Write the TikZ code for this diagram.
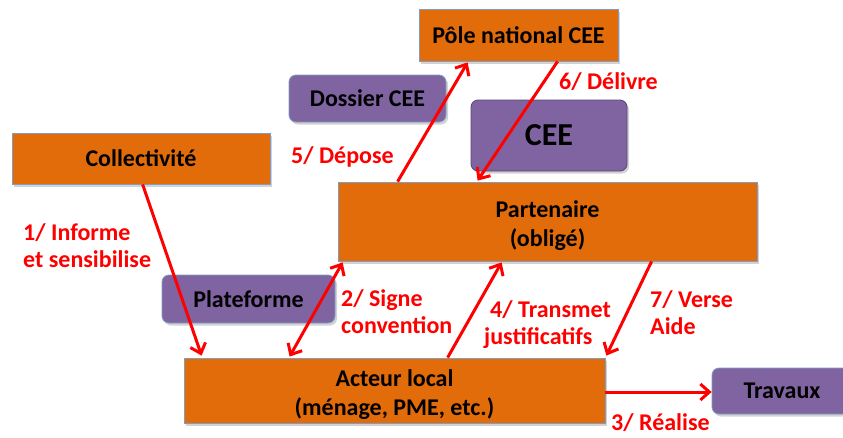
\documentclass[tikz,border=0pt]{standalone}
\usepackage{fontspec}
\setmainfont{Carlito}
\usetikzlibrary{arrows.meta,shadows,calc}
\definecolor{orangebox}{HTML}{E36C0A}
\definecolor{purplebox}{HTML}{8064A2}
\definecolor{boxline}{HTML}{7F9DC2}
\definecolor{arrowred}{HTML}{FF0000}
\newcommand{\topstrut}{\rule{0pt}{26pt}}
\tikzset{
  obox/.style={rectangle, fill=orangebox, draw=boxline, line width=0.8pt,
    drop shadow={opacity=0.35, shadow xshift=2pt, shadow yshift=-2.5pt},
    font=\bfseries\fontsize{24}{29}\selectfont, align=center, inner sep=0pt},
  pbox/.style={rectangle, rounded corners=7pt, fill=purplebox, draw=boxline, line width=0.8pt,
    drop shadow={opacity=0.35, shadow xshift=2pt, shadow yshift=-2.5pt},
    font=\bfseries\fontsize{24}{29}\selectfont, align=center, inner sep=0pt},
  lab/.style={text=arrowred, font=\bfseries\fontsize{24}{27}\selectfont, align=left, inner sep=0pt, anchor=west},
  arr/.style={draw=arrowred, line width=3pt, -{Straight Barb[length=9pt,width=16pt,line width=3pt]}},
  darr/.style={draw=arrowred, line width=3pt, {Straight Barb[length=9pt,width=16pt,line width=3pt]}-{Straight Barb[length=9pt,width=16pt,line width=3pt]}}
}
\begin{document}
\begin{tikzpicture}[x=1pt,y=-1pt]
\useasboundingbox (0,0) rectangle (843,437);
\clip (0,0) rectangle (843,437);
\fill[white] (0,0) rectangle (843,437);

\node[obox, minimum width=199pt, minimum height=52pt] (pole) at (518.5,35) {Pôle national CEE};
\node[pbox, minimum width=157pt, minimum height=47pt] (dossier) at (367.5,98.5) {Dossier CEE};
\node[pbox, draw=purplebox!70!black, minimum width=156pt, minimum height=71pt,
  font=\bfseries\fontsize{32}{36}\selectfont] (cee) at (549,135.5) {CEE};
\node[obox, minimum width=258pt, minimum height=51pt] (coll) at (141,158.5) {Collectivité};
\node[obox, minimum width=419pt, minimum height=79pt] (part) at (547.5,221.5) {\topstrut Partenaire\\(obligé)};
\node[pbox, minimum width=173pt, minimum height=48pt] (plat) at (248.5,299) {Plateforme};
\node[obox, minimum width=421pt, minimum height=65pt] (acteur) at (394.5,390.5) {\topstrut Acteur local\\(ménage, PME, etc.)};
\node[pbox, minimum width=140pt, minimum height=46pt] (trav) at (782,391) {Travaux};

% arrows
\draw[arr] ([xshift=131pt]coll.south west) -- ([xshift=18pt,yshift=2pt]acteur.north west);
\draw[darr] ([xshift=106pt,yshift=1pt]acteur.north west) -- ([xshift=5pt,yshift=-1pt]part.south west);
\draw[arr] ([xshift=264pt]acteur.north west) -- ([xshift=164pt,yshift=-1pt]part.south west);
\draw[arr] ([xshift=60pt]part.north west) -- ([xshift=49pt,yshift=-1pt]pole.south west);
\draw[arr] ([xshift=139pt]pole.south west) -- ([xshift=140pt,yshift=1pt]part.north west);
\draw[arr] ([xshift=314pt]part.south west) -- ([xshift=1pt,yshift=2pt]acteur.north east);
\draw[arr] ([yshift=-1.5pt]acteur.east) -- ([yshift=-1pt]trav.west);

% labels
\node[lab] (l1) at (23,245.5) {1/ Informe\\et sensibilise};
\node[lab] (l5) at (291,157) {5/ Dépose};
\node[lab] (l6) at (559,82) {6/ Délivre};
\node[lab] (l2) at (341,311.5) {2/ Signe\\convention};
\node[lab] (l4) at (484,325) {\hspace{6pt}4/ Transmet\\justificatifs};
\node[lab] (l7) at (650,312.5) {7/ Verse\\Aide};
\node[lab] (l3) at (611,423) {3/ Réalise};
\end{tikzpicture}
\end{document}
